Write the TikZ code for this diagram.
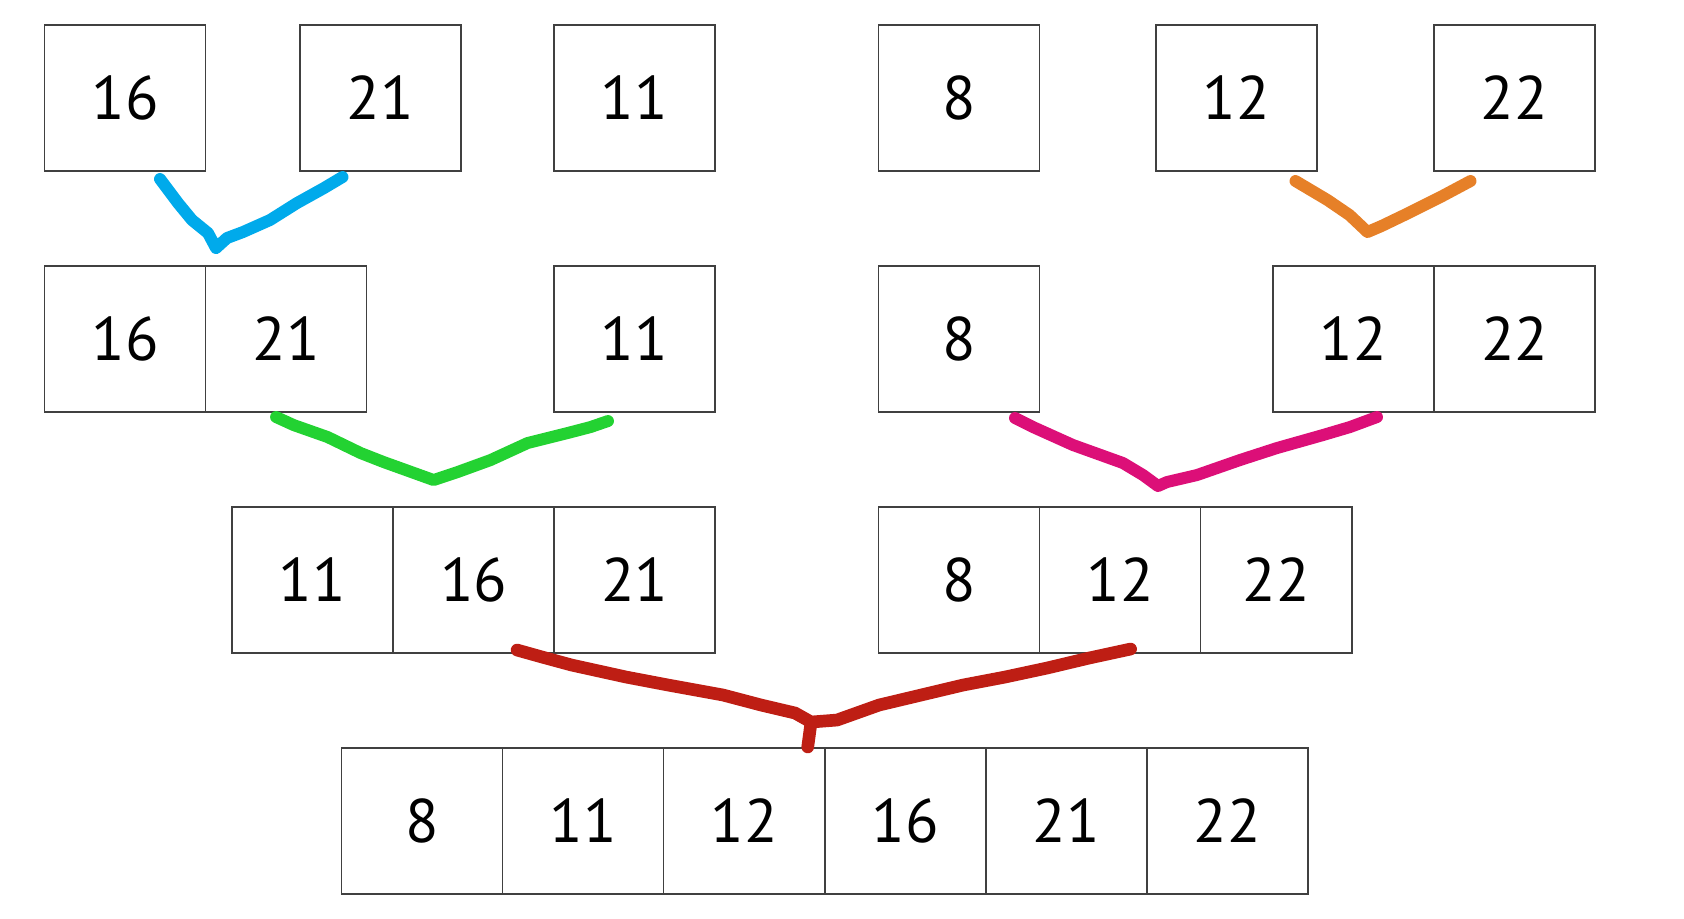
\documentclass[tikz,border=0pt]{standalone}
\usepackage{fontspec}
\setmainfont{PT Sans}
\usetikzlibrary{positioning,calc}
\definecolor{penblue}{RGB}{0,170,235}
\definecolor{penorange}{RGB}{230,128,40}
\definecolor{pengreen}{RGB}{35,210,50}
\definecolor{penpink}{RGB}{220,15,120}
\definecolor{penred}{RGB}{190,30,20}
\tikzset{
  cell/.style={draw=black!75,line width=0.45pt,minimum width=1.61cm,minimum height=1.46cm,
    inner sep=0pt,outer sep=0pt,font=\fontsize{17.5}{20}\selectfont},
  pen/.style={line width=3.4pt,line cap=round,line join=round},
}
\begin{document}
\begin{tikzpicture}[x=0.01cm,y=-0.01cm]
\useasboundingbox (0,0) rectangle (1684,919);
% single cells
\node[cell] (p16) at (125,98) {16};
\node[cell] (p21) at (380.5,98) {21};
\node[cell] (p11) at (634.5,98) {11};
\node[cell] (p8) at (959,98) {8};
\node[cell] (p12) at (1236.5,98) {12};
\node[cell] (p22) at (1514.5,98) {22};
% first merge
\node[cell] (q16) at (125,339) {16};
\node[cell,right=0pt of q16] (q21) {21};
\node[cell] (q11) at (634.5,339) {11};
\node[cell] (q8) at (959,339) {8};
\node[cell] (q12) at (1353.5,339) {12};
\node[cell,right=0pt of q12] (q22) {22};
% second merge
\node[cell] (s11) at (312.5,580) {11};
\node[cell,right=0pt of s11] (s16) {16};
\node[cell,right=0pt of s16] (s21) {21};
\node[cell] (s8) at (959,580) {8};
\node[cell,right=0pt of s8] (s12) {12};
\node[cell,right=0pt of s12,minimum width=1.51cm] (s22) {22};
% result
\node[cell] (f8) at (422,821) {8};
\node[cell,right=0pt of f8] (f11) {11};
\node[cell,right=0pt of f11] (f12) {12};
\node[cell,right=0pt of f12] (f16) {16};
\node[cell,right=0pt of f16] (f21) {21};
\node[cell,right=0pt of f21] (f22) {22};

% hand drawn merges
\draw[pen,penblue] ($(p16.south)+(35,8)$) -- ++(18,24) -- ++(14,17) -- ++(16,13) -- ++(8,15) coordinate (vb)
  -- ++(11,-10) -- ++(16,-6) -- ++(27,-12) -- ++(27,-17) -- ++(27,-15) -- ($(p21.south)+(-38,6)$);
\draw[pen,penorange] ($(p12.south)+(59,10)$) -- ++(32,19) -- ++(22,15) -- ++(18,17) coordinate (vo)
  -- ++(14,-6) -- ++(27,-13) -- ++(32,-16) -- ($(p22.south)+(-44,10)$);
\draw[pen,pengreen] ($(q21.south)+(-10,5)$) -- ++(17.5,8) -- ++(34,12) -- ++(33,16) -- ++(23,9) -- ++(50,18) coordinate (vg)
  -- ++(24,-8) -- ++(33,-12) -- ++(37,-17) -- ++(40,-10) -- ++(23,-6) -- ($(q11.south)+(-26.5,9)$);
\draw[pen,penpink] ($(q8.south)+(56,6)$) -- ++(18,9) -- ++(40,18) -- ++(50,18) -- ++(20,12) -- ++(15,11) coordinate (vp)
  -- ++(9,-4) -- ++(30,-7) -- ++(43,-15) -- ++(37,-12) -- ++(46,-13) -- ++(27,-8) -- ($(q12.south)+(23.5,5)$);
\draw[pen,penred,line width=3.6pt] ($(s16.south)+(43.5,-3)$) -- ++(25,7) -- ++(29.5,8) -- ++(54.5,12) -- ++(42,8)
  -- ++(55,10) -- ++(38,10) -- ++(34,8) -- ++(16,9) coordinate (vr)
  -- ++(26,-2) -- ++(42,-15) -- ++(42,-10) -- ++(42,-10) -- ++(42,-8) -- ++(42,-9) -- ++(42,-10) -- ($(s12.south)+(10.5,-4)$);
\draw[pen,penred,line width=3.6pt] (vr) -- ($(f12.north east)+(-17,-1)$);
\end{tikzpicture}
\end{document}
